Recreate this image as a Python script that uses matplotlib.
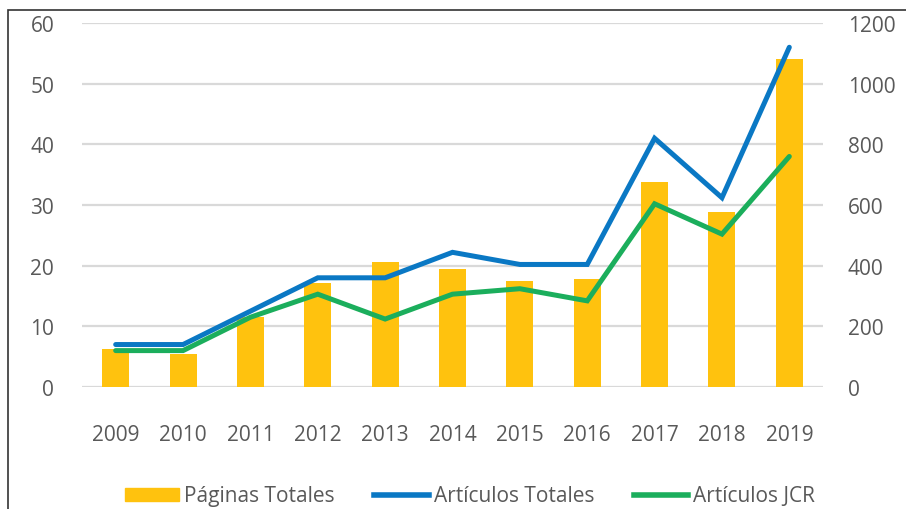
import matplotlib.pyplot as plt
import matplotlib.patches as mpatches
from matplotlib.lines import Line2D
import numpy as np

years = ['2009', '2010', '2011', '2012', '2013', '2014', '2015', '2016', '2017', '2018', '2019']
paginas_totales = [125, 108, 230, 343, 412, 389, 350, 356, 676, 577, 1081]
articulos_totales = [7, 7, 12.5, 18, 18, 22.2, 20.2, 20.2, 41, 31.2, 56]
articulos_jcr = [6, 6, 11.5, 15.3, 11.2, 15.3, 16.2, 14.2, 30.2, 25.2, 38]

c_bar = '#FFC20E'
c_blue = '#0A78C4'
c_green = '#1BAE5C'
c_text = '#595959'

plt.rcParams['font.family'] = ['Open Sans', 'DejaVu Sans']

fig = plt.figure(figsize=(9.06, 5.1), dpi=100)
ax = fig.add_axes([82 / 906, 1 - 388 / 510, (823 - 82) / 906, (388 - 24) / 510])
ax2 = ax.twinx()

x = np.arange(len(years))

# bars on the right axis (pages), lines on the left axis (articles)
ax2.bar(x, paginas_totales, width=0.4, color=c_bar, zorder=2)
ax2.set_ylim(0, 1200)
ax2.set_yticks(range(0, 1201, 200))
ax2.yaxis.grid(True, color='#D9D9D9', linewidth=1.6, zorder=0)
ax2.set_axisbelow(True)

ax.plot(x, articulos_totales, color=c_blue, linewidth=3.6, solid_capstyle='round', solid_joinstyle='miter')
ax.plot(x, articulos_jcr, color=c_green, linewidth=3.6, solid_capstyle='round', solid_joinstyle='miter')
ax.set_ylim(0, 60)
ax.set_yticks(range(0, 61, 10))
ax.set_xlim(-0.5, len(years) - 0.5)
ax.set_xticks(x)
ax.set_xticklabels(years)

# lines above bars
ax.set_zorder(ax2.get_zorder() + 1)
ax.patch.set_visible(False)

for a in (ax, ax2):
    for s in a.spines.values():
        s.set_visible(False)
    a.tick_params(length=0, labelsize=15, labelcolor=c_text)
ax.tick_params(axis='y', pad=20)
ax2.tick_params(axis='y', pad=18)
ax.tick_params(axis='x', pad=27)

# outer frame of the chart area
frame = mpatches.Rectangle((8 / 906, -0.1), 1.2, 1 - 11 / 510 + 0.1, transform=fig.transFigure,
                           fill=False, edgecolor='#333333', linewidth=1.2)
fig.patches.append(frame)

handles = [
    mpatches.Patch(color=c_bar, label='Páginas Totales'),
    Line2D([0], [0], color=c_blue, linewidth=4, label='Artículos Totales'),
    Line2D([0], [0], color=c_green, linewidth=4, label='Artículos JCR'),
]
fig.legend(handles=handles, loc='center', bbox_to_anchor=(470 / 906, 1 - 497 / 510), ncol=3,
           frameon=False, fontsize=15, labelcolor=c_text, handlelength=2.6, handleheight=0.6,
           handletextpad=0.25, columnspacing=1.9)

fig.savefig('out.png', dpi=100)
